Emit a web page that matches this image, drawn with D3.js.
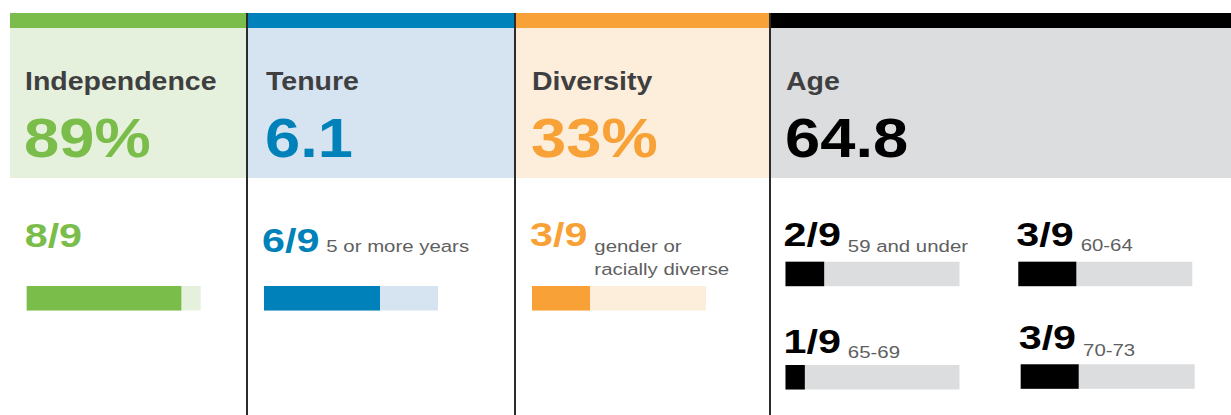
<!DOCTYPE html>
<html>
<head>
<meta charset="utf-8">
<script src="https://cdn.jsdelivr.net/npm/d3@7"></script>
<style>
  body { margin: 0; background: #fff; }
  text { font-family: "Liberation Sans", Arial, Helvetica, sans-serif; }
</style>
</head>
<body>
<div id="chart"></div>
<script>
// Board composition summary, 9 directors

// Data
const categories = ["Independence", "Tenure", "Diversity", "Age"]
const headlineValues = ["89%", "6.1", "33%", "64.8"]
const boardSize = 9

const statCategories = ["Independence", "Tenure", "Diversity", "Age", "Age", "Age", "Age"]
const statCounts = [8, 6, 3, 2, 3, 1, 3]
const statLabels = ["", "5 or more years", "gender or|racially diverse", "59 and under", "60-64", "65-69", "70-73"]

// Styles, one per category
const strongColours = ["#7bbd4b", "#0081b9", "#f7a136", "#000000"]
const paleColours = ["#e5f1dc", "#d6e3f0", "#fdeedc", "#dcdddf"]

// Layout
const width = 1231, height = 415
const panelLeft = [10, 247, 515, 770]
const panelRight = [247, 515, 770, 1231]
const textLeft = [25, 266, 532, 786]
const bandTop = 13, bandBottom = 28, panelBottom = 178

// where each little stat sits (x of fraction / bar, fraction baseline, bar top, label offset)
const statX = [26.7, 264, 532, 785.5, 1018.3, 785.5, 1020.7]
const statBase = [246.7, 251.7, 246, 246, 246, 353.3, 349.3]
const barTop = [286, 286, 286, 261.7, 261.7, 365, 364.3]
const labelDy = [0, 0, 5.7, 5.7, 4.7, 4.4, 6.4]
const barW = 174, barH = 24.5

const svg = d3.select("#chart").append("svg")
    .attr("width", width)
    .attr("height", height)

const colourOf = d3.scaleOrdinal().domain(categories).range(strongColours)
const paleOf = d3.scaleOrdinal().domain(categories).range(paleColours)
const barScale = d3.scaleLinear().domain([0, boardSize]).range([0, barW])

// panel backgrounds and top bands
svg.selectAll("rect.bg").data(categories).join("rect")
    .attr("class", "bg")
    .attr("x", (d, i) => panelLeft[i])
    .attr("y", bandBottom)
    .attr("width", (d, i) => panelRight[i] - panelLeft[i])
    .attr("height", panelBottom - bandBottom)
    .attr("fill", d => paleOf(d))

svg.selectAll("rect.band").data(categories).join("rect")
    .attr("class", "band")
    .attr("x", (d, i) => panelLeft[i])
    .attr("y", bandTop)
    .attr("width", (d, i) => panelRight[i] - panelLeft[i])
    .attr("height", bandBottom - bandTop)
    .attr("fill", d => colourOf(d))

// titles
svg.selectAll("text.title").data(categories).join("text")
    .attr("class", "title")
    .attr("transform", (d, i) => `translate(${textLeft[i]},90) scale(1.14,1)`)
    .attr("font-size", 25)
    .attr("font-weight", "bold")
    .attr("fill", "#3f3f41")
    .text(d => d)

// headline numbers
svg.selectAll("text.headline").data(categories).join("text")
    .attr("class", "headline")
    .attr("transform", (d, i) => `translate(${textLeft[i] - 1},156.7) scale(1.13,1)`)
    .attr("font-size", 56)
    .attr("font-weight", "bold")
    .attr("fill", d => colourOf(d))
    .text((d, i) => headlineValues[i])

// divider lines
svg.selectAll("line.divider").data(panelLeft.slice(1)).join("line")
    .attr("class", "divider")
    .attr("x1", d => d)
    .attr("x2", d => d)
    .attr("y1", bandTop)
    .attr("y2", height)
    .attr("stroke", "#2b2b2b")
    .attr("stroke-width", 2)

// stat bars: pale track then filled part
svg.selectAll("rect.track").data(statCounts).join("rect")
    .attr("class", "track")
    .attr("x", (d, i) => statX[i])
    .attr("y", (d, i) => barTop[i])
    .attr("width", barScale(boardSize))
    .attr("height", barH)
    .attr("fill", (d, i) => paleOf(statCategories[i]))

svg.selectAll("rect.fill").data(statCounts).join("rect")
    .attr("class", "fill")
    .attr("x", (d, i) => statX[i])
    .attr("y", (d, i) => barTop[i])
    .attr("width", d => barScale(d))
    .attr("height", barH)
    .attr("fill", (d, i) => colourOf(statCategories[i]))

// fractions like 8/9
const fracScale = 1.25
const fractions = svg.selectAll("text.fraction").data(statCounts).join("text")
    .attr("class", "fraction")
    .attr("transform", (d, i) => `translate(${statX[i] - 2},${statBase[i]}) scale(${fracScale},1)`)
    .attr("font-size", 33)
    .attr("font-weight", "bold")
    .attr("fill", (d, i) => colourOf(statCategories[i]))
    .text(d => d + "/" + boardSize)

// small grey labels after the fraction
fractions.each(function (d, i) {
    if (!statLabels[i]) return
    const fx = statX[i] - 2 + this.getComputedTextLength() * fracScale + 7
    const lines = statLabels[i].split("|")
    const t = svg.append("text")
        .attr("class", "label")
        .attr("transform", `translate(${fx},${statBase[i] + labelDy[i]}) scale(1.2,1)`)
        .attr("font-size", 17)
        .attr("fill", "#5f5f61")
    lines.forEach((line, j) => {
        t.append("tspan")
            .attr("x", 0)
            .attr("y", j * 23.3)
            .text(line)
    })
})
</script>
</body>
</html>
